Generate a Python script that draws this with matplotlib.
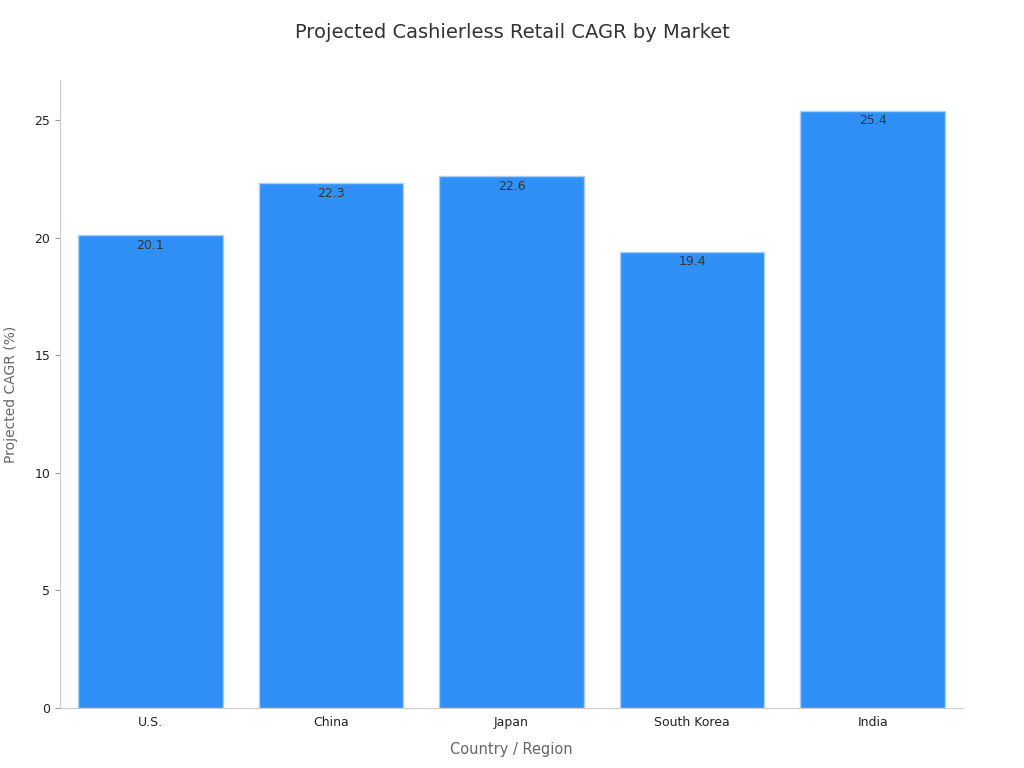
import matplotlib
matplotlib.use("Agg")
import matplotlib.pyplot as plt

markets = ["U.S.", "China", "Japan", "South Korea", "India"]
cagr = [20.1, 22.3, 22.6, 19.4, 25.4]

fig = plt.figure(figsize=(10.24, 7.68), dpi=100)
ax = fig.add_axes([60/1024, 60/768, 903/1024, 628/768])
bars = ax.bar(range(len(markets)), cagr, width=0.8, color="#2F91F8", edgecolor="#A9CFF7", linewidth=1)
for b, v in zip(bars, cagr):
    ax.text(b.get_x() + b.get_width()/2, v - 0.15, f"{v}", ha="center", va="top", fontsize=9, color="#333333")

ax.set_xlim(-0.5, 4.5)
ax.set_ylim(0, 26.7)
ax.set_xticks(range(len(markets)))
ax.set_xticklabels(markets)
ax.set_yticks([0, 5, 10, 15, 20, 25])
ax.tick_params(labelsize=9, colors="#222222")
ax.tick_params(axis="x", length=0, pad=6)
ax.tick_params(axis="y", color="#999999")
for s in ["top", "right"]:
    ax.spines[s].set_visible(False)
for s in ["left", "bottom"]:
    ax.spines[s].set_color("#cccccc")
ax.set_xlabel("Country / Region", fontsize=10.5, color="#666666", labelpad=9)
ax.set_ylabel("Projected CAGR (%)", fontsize=10, color="#666666", labelpad=12)
fig.suptitle("Projected Cashierless Retail CAGR by Market", fontsize=14, color="#333333", y=0.97)
fig.savefig("out.png", dpi=100)
